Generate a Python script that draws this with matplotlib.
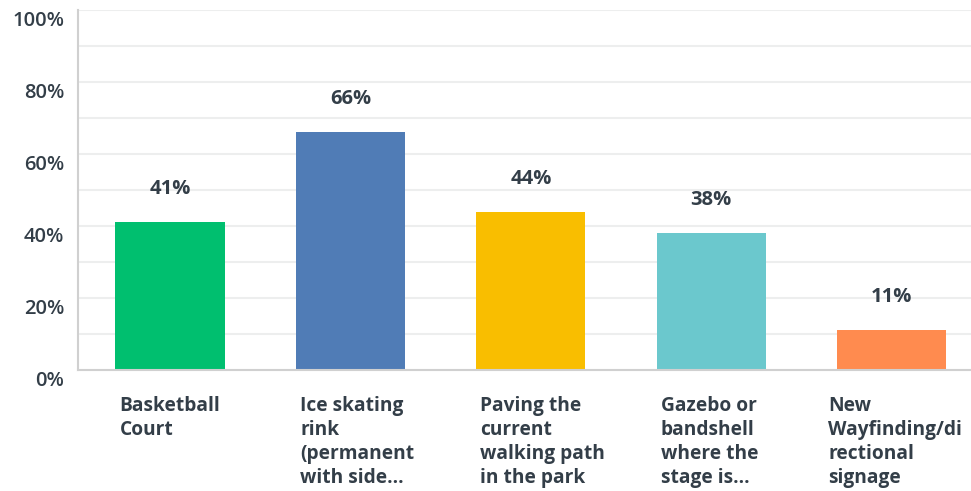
import matplotlib
matplotlib.use("Agg")
import matplotlib.pyplot as plt
import matplotlib.transforms as mtransforms

categories = ["Basketball\nCourt",
              "Ice skating\nrink\n(permanent\nwith side...",
              "Paving the\ncurrent\nwalking path\nin the park",
              "Gazebo or\nbandshell\nwhere the\nstage is...",
              "New\nWayfinding/di\nrectional\nsignage"]
values = [41, 66, 44, 38, 11]
value_labels = ["41%", "66%", "44%", "38%", "11%"]
colors = ["#00BF6F", "#507CB6", "#F9BE00", "#6BC8CD", "#FF8B4F"]
yticks = [0, 20, 40, 60, 80, 100]
ytick_labels = ["0%", "20%", "40%", "60%", "80%", "100%"]

W, H = 971, 491
fig = plt.figure(figsize=(W/100, H/100), dpi=100)
ax = fig.add_axes([78/W, (H-370)/H, (W-78)/W, 360/H])
text_color = "#333E48"
font = "Open Sans"

x = list(range(len(values)))
bw = 0.605
ax.bar(x, values, width=bw, color=colors, zorder=2)
ax.set_xlim(-0.51, 4.44)
ax.set_ylim(0, 100)
for v in range(10, 101, 10):
    ax.axhline(v, color="#EDEEEE", lw=1.5, zorder=1)
ax.set_yticks(yticks)
ax.set_yticklabels(ytick_labels, fontsize=14.5, color=text_color, family=font, fontweight="semibold")
ax.tick_params(axis="y", length=0, pad=10)
ax.tick_params(axis="x", length=0)
ax.set_xticks([])
offset = mtransforms.ScaledTranslation(0, -8/100, fig.dpi_scale_trans)
for lbl in ax.get_yticklabels():
    lbl.set_transform(lbl.get_transform() + offset)
for s in ["top", "right"]:
    ax.spines[s].set_visible(False)
ax.spines["left"].set_color("#D0D0D0")
ax.spines["left"].set_linewidth(1.5)
ax.spines["bottom"].set_color("#D0D0D0")
ax.spines["bottom"].set_linewidth(1.5)

cat_texts = []
for xi, v, lab in zip(x, values, value_labels):
    ax.annotate(lab, (xi, v), xytext=(0, 16.5), textcoords="offset points",
                ha="center", va="bottom", fontsize=14.5, color=text_color,
                family=font, fontweight="bold", zorder=3)
    t = ax.annotate(categories[xi], (xi - bw/2, 0), xytext=(3, -19), textcoords="offset points",
                    ha="left", va="top", fontsize=13.8, color=text_color, family=font,
                    fontweight="bold", linespacing=1.25, annotation_clip=False)
    cat_texts.append(t)

# keep category labels inside the figure (shift left like the original)
fig.canvas.draw()
r = fig.canvas.get_renderer()
for t in cat_texts:
    bb = t.get_window_extent(r)
    limit = W - 9
    if bb.x1 > limit:
        dx_pt = (bb.x1 - limit) * 72 / fig.dpi
        ox, oy = t.xyann
        t.xyann = (ox - dx_pt, oy)

fig.savefig("out.png", dpi=100)
